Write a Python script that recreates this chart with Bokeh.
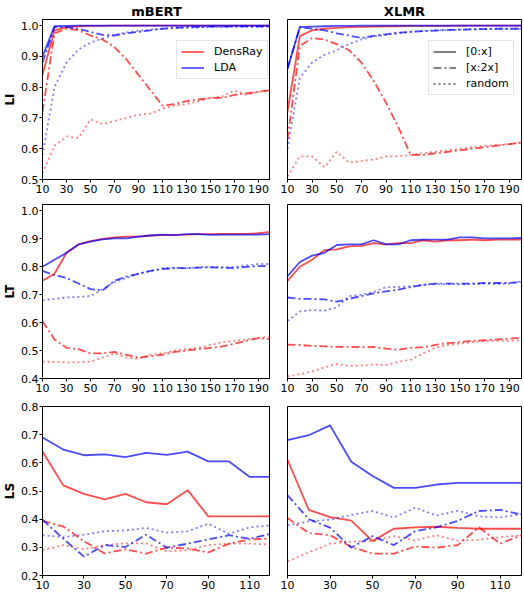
from bokeh.plotting import figure
from bokeh.layouts import column, row
from bokeh.models import Range1d, FixedTicker, Legend, LegendItem, PrintfTickFormatter, ColumnDataSource
from bokeh.embed import file_html
from bokeh.resources import INLINE

# ---------------- data ----------------
x_long = [10, 20, 30, 40, 50, 60, 70, 80, 90, 100, 110, 120, 130, 140, 150, 160, 170, 180, 190, 200]
x_short = [10, 20, 30, 40, 50, 60, 70, 80, 90, 100, 110, 120]
xticks_long = [10, 30, 50, 70, 90, 110, 130, 150, 170, 190]
xticks_short = [10, 30, 50, 70, 90, 110]
yticks_li = [0.5, 0.6, 0.7, 0.8, 0.9, 1.0]
yticks_lt = [0.4, 0.5, 0.6, 0.7, 0.8, 0.9, 1.0]
yticks_ls = [0.2, 0.3, 0.4, 0.5, 0.6, 0.7, 0.8]
methods = ["DensRay", "LDA"]
styles = ["[0:x]", "[x:2x]", "random"]
columns_titles = ["mBERT", "XLMR"]
row_labels = ["LI", "LT", "LS"]

# mBERT LI
mbert_li_densray_0x = [0.84, 0.985, 0.995, 0.998, 0.999, 0.999, 1.0, 1.0, 1.0, 1.0, 1.0, 1.0, 1.0, 1.0, 1.0, 1.0, 1.0, 1.0, 1.0, 1.0]
mbert_li_densray_x2x = [0.72, 0.975, 0.99, 0.985, 0.968, 0.955, 0.93, 0.89, 0.84, 0.79, 0.74, 0.745, 0.755, 0.76, 0.765, 0.765, 0.775, 0.78, 0.785, 0.79]
mbert_li_densray_rand = [0.52, 0.61, 0.64, 0.635, 0.695, 0.68, 0.69, 0.70, 0.71, 0.715, 0.73, 0.74, 0.745, 0.755, 0.765, 0.77, 0.79, 0.775, 0.785, 0.79]
mbert_li_lda_0x = [0.90, 0.998, 0.999, 1.0, 1.0, 1.0, 1.0, 1.0, 1.0, 1.0, 1.0, 1.0, 1.0, 1.0, 1.0, 1.0, 1.0, 1.0, 1.0, 1.0]
mbert_li_lda_x2x = [0.88, 0.995, 0.995, 0.99, 0.98, 0.97, 0.968, 0.975, 0.98, 0.985, 0.99, 0.993, 0.995, 0.996, 0.997, 0.997, 0.998, 0.998, 0.998, 0.998]
mbert_li_lda_rand = [0.58, 0.80, 0.88, 0.922, 0.945, 0.958, 0.97, 0.978, 0.983, 0.987, 0.99, 0.992, 0.993, 0.994, 0.995, 0.995, 0.996, 0.996, 0.996, 0.997]

# XLMR LI
xlmr_li_densray_0x = [0.72, 0.966, 0.985, 0.99, 0.993, 0.995, 0.996, 0.997, 0.998, 0.998, 0.999, 0.999, 0.999, 0.999, 1.0, 1.0, 1.0, 1.0, 1.0, 1.0]
xlmr_li_densray_x2x = [0.63, 0.934, 0.96, 0.955, 0.94, 0.92, 0.88, 0.82, 0.75, 0.67, 0.58, 0.58, 0.585, 0.59, 0.595, 0.60, 0.605, 0.61, 0.615, 0.62]
xlmr_li_densray_rand = [0.51, 0.575, 0.575, 0.54, 0.59, 0.555, 0.56, 0.565, 0.575, 0.575, 0.58, 0.585, 0.59, 0.595, 0.60, 0.605, 0.61, 0.612, 0.615, 0.62]
xlmr_li_lda_0x = [0.86, 0.995, 0.997, 0.998, 0.999, 0.999, 1.0, 1.0, 1.0, 1.0, 1.0, 1.0, 1.0, 1.0, 1.0, 1.0, 1.0, 1.0, 1.0, 1.0]
xlmr_li_lda_x2x = [0.86, 0.995, 0.99, 0.985, 0.975, 0.968, 0.96, 0.967, 0.972, 0.977, 0.98, 0.982, 0.984, 0.986, 0.987, 0.988, 0.989, 0.99, 0.99, 0.99]
xlmr_li_lda_rand = [0.60, 0.83, 0.88, 0.905, 0.92, 0.94, 0.955, 0.965, 0.97, 0.975, 0.98, 0.983, 0.985, 0.986, 0.987, 0.988, 0.989, 0.99, 0.99, 0.99]

# mBERT LT
mbert_lt_densray_0x = [0.75, 0.775, 0.85, 0.88, 0.892, 0.90, 0.905, 0.908, 0.908, 0.912, 0.913, 0.914, 0.915, 0.917, 0.917, 0.918, 0.918, 0.918, 0.92, 0.925]
mbert_lt_densray_x2x = [0.605, 0.54, 0.51, 0.505, 0.49, 0.49, 0.495, 0.485, 0.475, 0.48, 0.485, 0.495, 0.50, 0.505, 0.51, 0.515, 0.525, 0.535, 0.545, 0.54]
mbert_lt_densray_rand = [0.46, 0.46, 0.458, 0.458, 0.46, 0.475, 0.49, 0.475, 0.47, 0.485, 0.49, 0.50, 0.505, 0.51, 0.52, 0.53, 0.535, 0.54, 0.545, 0.55]
mbert_lt_lda_0x = [0.80, 0.825, 0.85, 0.88, 0.89, 0.898, 0.902, 0.902, 0.908, 0.912, 0.915, 0.913, 0.917, 0.917, 0.914, 0.915, 0.915, 0.915, 0.915, 0.917]
mbert_lt_lda_x2x = [0.785, 0.77, 0.76, 0.74, 0.72, 0.715, 0.75, 0.765, 0.775, 0.785, 0.792, 0.795, 0.795, 0.797, 0.798, 0.797, 0.795, 0.80, 0.802, 0.803]
mbert_lt_lda_rand = [0.68, 0.685, 0.69, 0.692, 0.695, 0.72, 0.745, 0.76, 0.775, 0.785, 0.795, 0.797, 0.795, 0.798, 0.80, 0.798, 0.80, 0.805, 0.81, 0.81]

# XLMR LT
xlmr_lt_densray_0x = [0.749, 0.80, 0.825, 0.86, 0.862, 0.873, 0.875, 0.885, 0.88, 0.885, 0.885, 0.895, 0.89, 0.895, 0.895, 0.897, 0.895, 0.897, 0.897, 0.897]
xlmr_lt_densray_x2x = [0.521, 0.52, 0.517, 0.515, 0.513, 0.513, 0.512, 0.513, 0.507, 0.503, 0.51, 0.512, 0.52, 0.527, 0.53, 0.535, 0.537, 0.54, 0.542, 0.547]
xlmr_lt_densray_rand = [0.408, 0.415, 0.425, 0.44, 0.452, 0.445, 0.447, 0.45, 0.448, 0.46, 0.467, 0.49, 0.51, 0.52, 0.525, 0.53, 0.535, 0.535, 0.535, 0.537]
xlmr_lt_lda_0x = [0.766, 0.817, 0.84, 0.85, 0.878, 0.88, 0.88, 0.895, 0.88, 0.88, 0.895, 0.897, 0.897, 0.897, 0.905, 0.905, 0.902, 0.902, 0.902, 0.903]
xlmr_lt_lda_x2x = [0.69, 0.685, 0.685, 0.683, 0.675, 0.685, 0.695, 0.705, 0.712, 0.718, 0.727, 0.735, 0.74, 0.74, 0.74, 0.74, 0.742, 0.742, 0.742, 0.745]
xlmr_lt_lda_rand = [0.606, 0.64, 0.645, 0.643, 0.655, 0.695, 0.70, 0.71, 0.727, 0.728, 0.73, 0.735, 0.738, 0.738, 0.737, 0.738, 0.74, 0.738, 0.74, 0.748]

# mBERT LS
mbert_ls_densray_0x = [0.64, 0.52, 0.49, 0.47, 0.49, 0.46, 0.453, 0.503, 0.41, 0.41, 0.41, 0.41]
mbert_ls_densray_x2x = [0.394, 0.374, 0.322, 0.278, 0.293, 0.278, 0.299, 0.296, 0.282, 0.313, 0.328, 0.331]
mbert_ls_densray_rand = [0.29, 0.308, 0.293, 0.308, 0.314, 0.314, 0.286, 0.29, 0.308, 0.313, 0.313, 0.31]
mbert_ls_lda_0x = [0.69, 0.647, 0.627, 0.63, 0.62, 0.635, 0.628, 0.64, 0.605, 0.605, 0.55, 0.55]
mbert_ls_lda_x2x = [0.398, 0.331, 0.267, 0.308, 0.301, 0.345, 0.299, 0.313, 0.328, 0.343, 0.33, 0.348]
mbert_ls_lda_rand = [0.343, 0.336, 0.345, 0.357, 0.36, 0.369, 0.352, 0.357, 0.384, 0.348, 0.371, 0.378]

# XLMR LS
xlmr_ls_densray_0x = [0.611, 0.433, 0.407, 0.395, 0.322, 0.366, 0.371, 0.373, 0.369, 0.366, 0.366, 0.366]
xlmr_ls_densray_x2x = [0.404, 0.351, 0.343, 0.301, 0.278, 0.278, 0.303, 0.299, 0.308, 0.371, 0.313, 0.343]
xlmr_ls_densray_rand = [0.25, 0.282, 0.313, 0.32, 0.322, 0.34, 0.324, 0.343, 0.324, 0.327, 0.336, 0.343]
xlmr_ls_lda_0x = [0.681, 0.698, 0.733, 0.604, 0.553, 0.511, 0.511, 0.523, 0.529, 0.529, 0.529, 0.529]
xlmr_ls_lda_x2x = [0.485, 0.40, 0.37, 0.299, 0.34, 0.308, 0.357, 0.371, 0.394, 0.429, 0.433, 0.416]
xlmr_ls_lda_rand = [0.378, 0.392, 0.398, 0.415, 0.429, 0.406, 0.441, 0.413, 0.43, 0.41, 0.406, 0.418]

panels = [
    [(x_long, [[mbert_li_densray_0x, mbert_li_densray_x2x, mbert_li_densray_rand],
               [mbert_li_lda_0x, mbert_li_lda_x2x, mbert_li_lda_rand]]),
     (x_long, [[xlmr_li_densray_0x, xlmr_li_densray_x2x, xlmr_li_densray_rand],
               [xlmr_li_lda_0x, xlmr_li_lda_x2x, xlmr_li_lda_rand]])],
    [(x_long, [[mbert_lt_densray_0x, mbert_lt_densray_x2x, mbert_lt_densray_rand],
               [mbert_lt_lda_0x, mbert_lt_lda_x2x, mbert_lt_lda_rand]]),
     (x_long, [[xlmr_lt_densray_0x, xlmr_lt_densray_x2x, xlmr_lt_densray_rand],
               [xlmr_lt_lda_0x, xlmr_lt_lda_x2x, xlmr_lt_lda_rand]])],
    [(x_short, [[mbert_ls_densray_0x, mbert_ls_densray_x2x, mbert_ls_densray_rand],
                [mbert_ls_lda_0x, mbert_ls_lda_x2x, mbert_ls_lda_rand]]),
     (x_short, [[xlmr_ls_densray_0x, xlmr_ls_densray_x2x, xlmr_ls_densray_rand],
                [xlmr_ls_lda_0x, xlmr_ls_lda_x2x, xlmr_ls_lda_rand]])],
]
row_xranges = [(10, 200), (10, 200), (10, 120)]
row_yranges = [(0.5, 1.02), (0.4, 1.023), (0.2, 0.8)]
row_xticks = [xticks_long, xticks_long, xticks_short]
row_yticks = [yticks_li, yticks_lt, yticks_ls]

# ---------------- style ----------------
FONT = "DejaVu Sans"
method_colors = ["#ff0000", "#0000ff"]
style_dash = ["solid", "8 3 2 3", "2 3"]
style_alpha = [0.7, 0.7, 0.5]
frame_heights = [160, 174, 169]
top_borders = [0, 9, 12]
LEFT_BORDER = 34
left_frame_w = 270 - 8 - LEFT_BORDER
right_frame_w = 234

figs = []
for r in range(3):
    row_figs = []
    for c in range(2):
        xs, series = panels[r][c]
        p = figure(
            output_backend="svg", toolbar_location=None,
            frame_width=left_frame_w if c == 0 else right_frame_w,
            frame_height=frame_heights[r],
            x_range=Range1d(*row_xranges[r]), y_range=Range1d(*row_yranges[r]),
            min_border_left=LEFT_BORDER if c == 0 else 17,
            min_border_right=0 if c == 0 else 2,
            min_border_top=top_borders[r], min_border_bottom=0,
            background_fill_color="white", border_fill_color="white",
        )
        p.grid.visible = False
        p.outline_line_color = "black"
        p.outline_line_width = 1
        p.outline_line_alpha = 1
        p.xaxis.ticker = FixedTicker(ticks=row_xticks[r])
        p.yaxis.ticker = FixedTicker(ticks=row_yticks[r])
        p.yaxis.formatter = PrintfTickFormatter(format="%.1f")
        for ax in [p.xaxis[0], p.yaxis[0]]:
            ax.major_label_text_font = FONT
            ax.major_label_text_font_size = "11px"
            ax.major_label_text_color = "black"
            ax.minor_tick_line_color = None
            ax.major_tick_out = 3
            ax.major_tick_in = 0
            ax.major_label_standoff = 2
            ax.axis_line_color = "black"
            ax.major_tick_line_color = "black"
        p.yaxis.major_label_standoff = 1
        if c == 0:
            p.yaxis.axis_label = row_labels[r]
            p.yaxis.axis_label_text_font = FONT
            p.yaxis.axis_label_text_font_size = "12px"
            p.yaxis.axis_label_text_font_style = "bold"
            p.yaxis.axis_label_text_color = "black"
            p.yaxis.axis_label_standoff = 1
        else:
            p.yaxis.visible = False
        if r == 0:
            p.title.text = columns_titles[c]
            p.title.align = "center"
            p.title.text_font = FONT
            p.title.text_font_size = "13px"
            p.title.text_font_style = "bold"
            p.title.text_color = "black"
            p.title.standoff = 2

        for mi in range(2):
            for si in range(3):
                src = ColumnDataSource(dict(x=xs, y=series[mi][si]))
                p.line("x", "y", source=src, line_color=method_colors[mi],
                       line_width=1.8, line_alpha=style_alpha[si],
                       line_dash=style_dash[si])
        row_figs.append(p)
    figs.append(row_figs)

# legends (key renderers sit outside the visible x range)
off_x = [-1000, -990]
off_y = [0.0, 0.0]
p0 = figs[0][0]
lr = [p0.line(off_x, off_y, line_color=method_colors[i], line_width=1.2) for i in range(2)]
LEG_TOP = 23
LH = 13
SP = 3
PAD = 4
h1 = 2 * LH + SP + 2 * PAD
h2 = 3 * LH + 2 * SP + 2 * PAD
leg1 = Legend(items=[LegendItem(label=methods[i], renderers=[lr[i]]) for i in range(2)],
              location=(left_frame_w - 94, frame_heights[0] - LEG_TOP - h1))
p1 = figs[0][1]
sr = [p1.line(off_x, off_y, line_color="black", line_width=1.0, line_dash=style_dash[i])
      for i in range(3)]
leg2 = Legend(items=[LegendItem(label=styles[i], renderers=[sr[i]]) for i in range(3)],
              location=(right_frame_w - 93, frame_heights[0] - LEG_TOP - h2))
for lg in [leg1, leg2]:
    lg.label_text_font = FONT
    lg.label_text_font_size = "11px"
    lg.label_text_color = "black"
    lg.glyph_width = 23
    lg.glyph_height = LH
    lg.label_height = LH
    lg.label_standoff = 10
    lg.spacing = SP
    lg.padding = PAD
    lg.margin = 0
    lg.border_line_color = "#cccccc"
    lg.border_line_width = 1
    lg.background_fill_alpha = 0.85
p0.add_layout(leg1)
p1.add_layout(leg2)

layout = column(row(figs[0][0], figs[0][1]), row(figs[1][0], figs[1][1]), row(figs[2][0], figs[2][1]))
open("out.html", "w").write(file_html(layout, INLINE))
